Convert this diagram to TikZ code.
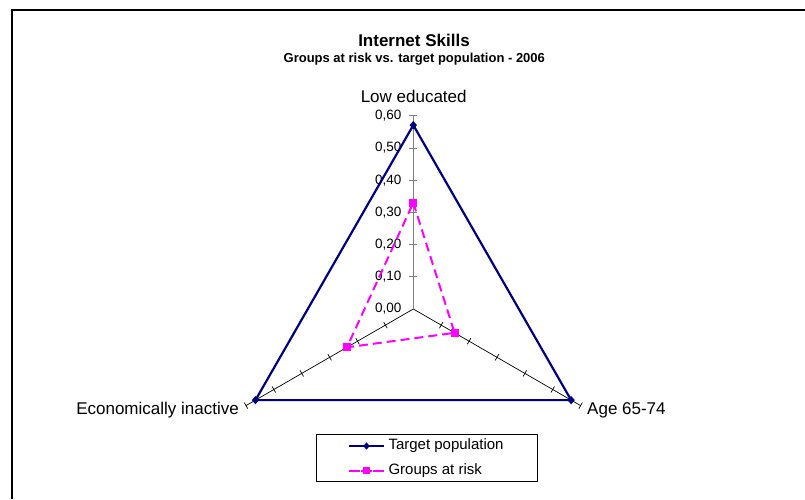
\documentclass[tikz,border=0pt]{standalone}
\usepackage{fontspec}
\setmainfont{Liberation Sans}
\usetikzlibrary{calc,shapes.geometric}
\definecolor{navyc}{RGB}{0,0,128}
\definecolor{magc}{RGB}{255,0,255}
\definecolor{axisgray}{RGB}{128,128,128}
\begin{document}
\begin{tikzpicture}[x=1pt,y=-1pt,
  frame/.style={line width=2pt, line cap=butt},
  vaxis/.style={draw=axisgray, line width=1pt},
  saxis/.style={draw=black, line width=0.7pt},
  tickmk/.style={line width=0.7pt},
  targetline/.style={draw=navyc, line width=2.2pt, line join=round},
  riskline/.style={draw=magc, line width=2pt, dash pattern=on 9pt off 5pt},
  dmark/.style={diamond, fill=navyc, inner sep=0pt, minimum width=7.5pt, minimum height=8.5pt},
  smark/.style={rectangle, fill=magc, inner sep=0pt, minimum size=8pt},
  ticklab/.style={anchor=east, inner sep=0pt, font=\fontsize{13.5}{16}\selectfont},
  axlab/.style={inner sep=0pt, font=\fontsize{17}{20}\selectfont},
  leglab/.style={anchor=west, inner sep=0pt, font=\fontsize{15}{18}\selectfont},
  legbox/.style={draw=black, line width=0.8pt, inner sep=0pt, minimum width=221pt, minimum height=47pt}
]
\useasboundingbox (0,0) rectangle (805,499);
% outer frame (only left and top edges are visible)
\draw[frame] (12,499) -- (12,10) -- (805,10);

% titles
\node[inner sep=0pt, anchor=base, font=\bfseries\fontsize{17}{20}\selectfont] (title) at (414,46) {Internet Skills};
\node[inner sep=0pt, anchor=base, font=\bfseries\fontsize{13}{15}\selectfont] (subtitle) at (414.3,62.3) {Groups at risk vs. target population - 2006};

% center and axes
\coordinate (C) at (413.3,309);
\coordinate (Atop) at ($(C)+(270:193.2)$);
\coordinate (Aleft) at ($(C)+(150:193.2)$);
\coordinate (Aright) at ($(C)+(30:193.2)$);
\draw[saxis] (C) -- (Aleft);
\draw[saxis] (C) -- (Aright);
\draw[vaxis] (C) -- (Atop);
\foreach \k in {1,...,6} {
  \draw[tickmk, axisgray] ($(C)+(270:\k*32.2)$) +(-4,0) -- +(4,0);
  \draw[tickmk] ($(C)+(150:\k*32.2)$) +(60:3.5) -- +(240:3.5);
  \draw[tickmk] ($(C)+(30:\k*32.2)$) +(120:3.5) -- +(300:3.5);
}
\foreach \k in {0,...,6} {
  \node[ticklab] (tl\k) at ($(C)+(-11.6,-\k*32.2)$) {0,\k0};
}

% axis labels
\node[axlab, anchor=base] (lowedu) at (413.7,102.7) {Low educated};
\node[axlab, anchor=base east] (econ) at (239,414.5) {Economically inactive};
\node[axlab, anchor=base west] (age) at (587,414.5) {Age 65-74};

% target population series
\coordinate (T1) at ($(C)+(270:0.571*322)$);
\coordinate (T2) at ($(C)+(30:0.566*322)$);
\coordinate (T3) at ($(C)+(150:0.566*322)$);
\draw[targetline] (T1) -- (T2) -- (T3) -- cycle;
\node[dmark] (t1) at (T1) {};
\node[dmark] (t2) at (T2) {};
\node[dmark] (t3) at (T3) {};

% groups at risk series
\coordinate (R1) at ($(C)+(270:0.330*322)$);
\coordinate (R2) at ($(C)+(30:0.148*322)$);
\coordinate (R3) at ($(C)+(150:0.238*322)$);
\draw[riskline] (R1) -- (R2) -- (R3) -- cycle;
\node[smark] (r1) at (R1) {};
\node[smark] (r2) at (R2) {};
\node[smark] (r3) at (R3) {};

% legend
\node[legbox] (legend) at (427.2,457.8) {};
\coordinate (L1a) at (349,446);
\coordinate (L1b) at (384,446);
\coordinate (L2a) at (349,470.7);
\coordinate (L2b) at (384,470.7);
\draw[targetline] (L1a) -- (L1b);
\node[dmark, minimum width=6.5pt, minimum height=7.5pt] (lm1) at ($(L1a)!0.5!(L1b)$) {};
\draw[riskline, dash pattern=on 11pt off 1pt] (L2a) -- (L2b);
\node[smark, minimum size=7pt] (lm2) at ($(L2a)!0.5!(L2b)$) {};
\node[leglab] (leg1) at (388.3,446) {Target population};
\node[leglab] (leg2) at (388.3,470.7) {Groups at risk};
\end{tikzpicture}
\end{document}
